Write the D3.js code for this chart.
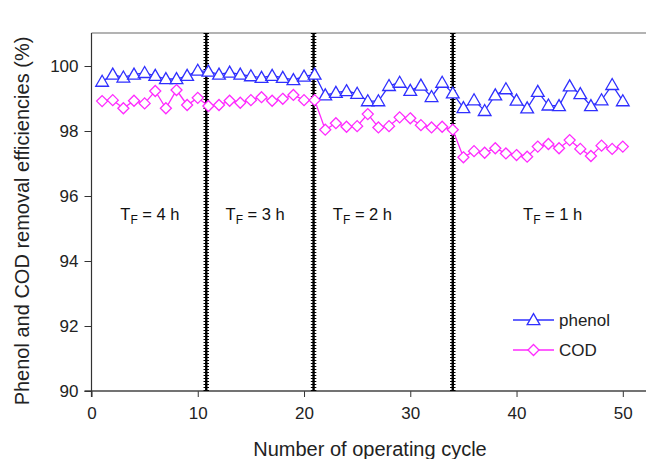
<!DOCTYPE html>
<html>
<head>
<meta charset="utf-8">
<script src="https://cdn.jsdelivr.net/npm/d3@7"></script>
<style>
  html, body { margin: 0; padding: 0; background: #fff; }
  svg { display: block; font-family: Arial, "Liberation Sans", sans-serif; }
</style>
</head>
<body>
<svg id="chart" width="646" height="459"></svg>
<script>
const cycles = d3.range(1, 51);
const phenol = [
  99.52, 99.74, 99.65, 99.74, 99.79, 99.70, 99.60, 99.60, 99.70, 99.86,
  99.83, 99.74, 99.80, 99.74, 99.69, 99.64, 99.70, 99.64, 99.57, 99.68,
  99.74, 99.10, 99.18, 99.23, 99.15, 98.92, 98.92, 99.39, 99.49, 99.24,
  99.40, 99.05, 99.49, 99.16, 98.71, 98.95, 98.62, 99.10, 99.29, 98.94,
  98.70, 99.21, 98.79, 98.77, 99.38, 99.14, 98.77, 98.95, 99.42, 98.92
];
const cod = [
  98.92, 98.95, 98.70, 98.93, 98.85, 99.23, 98.70, 99.26, 98.80, 99.02,
  98.77, 98.80, 98.93, 98.87, 98.95, 99.04, 98.93, 98.99, 99.11, 98.95,
  98.95, 98.04, 98.24, 98.13, 98.15, 98.52, 98.11, 98.15, 98.42, 98.39,
  98.18, 98.11, 98.13, 98.04, 97.19, 97.38, 97.33, 97.47, 97.31, 97.26,
  97.21, 97.52, 97.60, 97.47, 97.72, 97.45, 97.23, 97.55, 97.45, 97.52
];
const xTicks = [0, 10, 20, 30, 40, 50];
const yTicks = [90, 92, 94, 96, 98, 100];
const dividers = [10.8, 20.9, 34];
const phaseLabels = ["4", "3", "2", "1"];
const phasePos = [5.5, 15.4, 25.5, 43.4];
const seriesNames = ["phenol", "COD"];

const svg = d3.select("#chart");
const x = d3.scaleLinear().domain([0, 50]).range([91.5, 622.8]);
const y = d3.scaleLinear().domain([90, 100]).range([391, 66]);
const yTop = 33;
const xRight = 646;
const FONT = "Arial, 'Liberation Sans', sans-serif";

// top border
svg.append("line").attr("x1", x(0)).attr("x2", xRight).attr("y1", yTop).attr("y2", yTop)
  .attr("stroke", "#9a9a9a").attr("stroke-width", 1.6);

// axes
const xAxis = d3.axisBottom(x).tickValues(xTicks).tickSize(6).tickSizeOuter(0).tickPadding(10);
const gx = svg.append("g").attr("transform", `translate(0,${y(90)})`).call(xAxis);
gx.select(".domain").remove();
gx.selectAll("line").attr("stroke", "#333");
gx.selectAll("text").attr("font-size", 17).attr("fill", "#222").attr("font-family", FONT);
svg.append("line").attr("x1", x(0) - 7).attr("x2", xRight).attr("y1", y(90)).attr("y2", y(90))
  .attr("stroke", "#444").attr("stroke-width", 1.3);

const yAxis = d3.axisLeft(y).tickValues(yTicks).tickSize(7).tickSizeOuter(0).tickPadding(6);
const gy = svg.append("g").attr("transform", `translate(${x(0)},0)`).call(yAxis);
gy.select(".domain").remove();
gy.selectAll("line").attr("stroke", "#333");
gy.selectAll("text").attr("font-size", 17).attr("fill", "#222").attr("font-family", FONT);
svg.append("line").attr("x1", x(0)).attr("x2", x(0)).attr("y1", yTop).attr("y2", y(90) + 6)
  .attr("stroke", "#333").attr("stroke-width", 1.2);

// dividers
dividers.forEach(d => {
  svg.append("line").attr("x1", x(d)).attr("x2", x(d)).attr("y1", yTop).attr("y2", y(90))
    .attr("stroke", "#000").attr("stroke-width", 2.4);
  svg.append("line").attr("x1", x(d)).attr("x2", x(d)).attr("y1", yTop).attr("y2", y(90))
    .attr("stroke", "#000").attr("stroke-width", 5.5).attr("stroke-dasharray", "1,2");
});

// phase labels
phaseLabels.forEach((p, i) => {
  const t = svg.append("text").attr("x", x(phasePos[i])).attr("y", 220)
    .attr("text-anchor", "middle").attr("font-size", 16.5).attr("fill", "#111");
  t.append("tspan").text("T");
  t.append("tspan").attr("font-size", 12).attr("dy", 4).text("F");
  t.append("tspan").attr("dy", -4).text(" = " + p + " h");
});

const colors = ["#2f2fff", "#ff2aff"];
const data = [phenol, cod];
const tri = d3.symbol().type(d3.symbolTriangle).size(70);
const dia = (s) => `M0,${-s}L${s},0L0,${s}L${-s},0Z`;

data.forEach((vals, k) => {
  const pts = cycles.map((c, i) => [c, vals[i]]);
  svg.append("path").datum(pts)
    .attr("d", d3.line().x(d => x(d[0])).y(d => y(d[1])))
    .attr("fill", "none").attr("stroke", colors[k]).attr("stroke-width", 1.3);
  const g = svg.append("g");
  g.selectAll("path").data(pts).enter().append("path")
    .attr("transform", d => `translate(${x(d[0])},${y(d[1]) + (k === 0 ? 1 : 0)})`)
    .attr("d", k === 0 ? tri() : dia(5.5))
    .attr("fill", "#fff").attr("stroke", colors[k]).attr("stroke-width", 1.3);
});

// legend
const legY = [320, 350];
seriesNames.forEach((n, k) => {
  svg.append("line").attr("x1", 513).attr("x2", 554).attr("y1", legY[k]).attr("y2", legY[k])
    .attr("stroke", colors[k]).attr("stroke-width", 1.3);
  svg.append("path").attr("transform", `translate(533.5,${legY[k] + (k === 0 ? 1 : 0)})`)
    .attr("d", k === 0 ? tri() : dia(5.5))
    .attr("fill", "#fff").attr("stroke", colors[k]).attr("stroke-width", 1.3);
  svg.append("text").attr("x", 559).attr("y", legY[k] + 6).attr("font-size", 17)
    .attr("fill", "#222").text(n);
});

// axis titles
svg.append("text").attr("x", 370).attr("y", 456).attr("text-anchor", "middle")
  .attr("font-size", 20).attr("fill", "#222").text("Number of operating cycle");
svg.append("text").attr("transform", `translate(29,221) rotate(-90)`).attr("text-anchor", "middle")
  .attr("font-size", 20).attr("fill", "#222").text("Phenol and COD removal efficiencies (%)");
</script>
</body>
</html>
